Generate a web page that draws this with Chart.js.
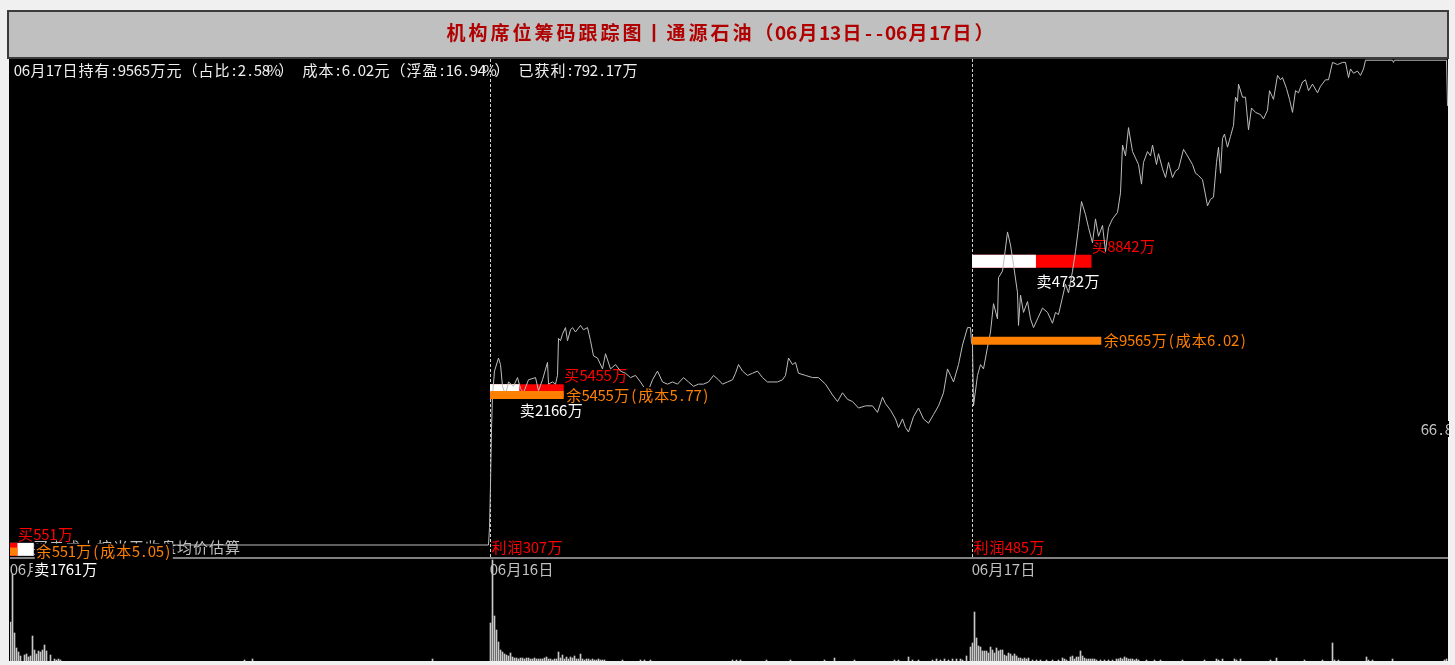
<!DOCTYPE html>
<html>
<head>
<meta charset="utf-8">
<script src="https://cdn.jsdelivr.net/npm/chart.js@4.4.1/dist/chart.umd.min.js"></script>
<style>
html, body { margin: 0; padding: 0; background: #f0f0f0; width: 1455px; height: 665px; overflow: hidden; }
#c { position: absolute; left: 7px; top: 10px; }
</style>
</head>
<body>
<canvas id="c" width="1442" height="651"></canvas>
<script>
// ---- data ----
const stockName = '通源石油';
const dates = ['06月13日', '06月16日', '06月17日'];
const dayStart = [0, 240, 481];          // minute index of each session open
const buyWan = [551, 5455, 8842];
const sellWan = [1761, 2166, 4732];
const remainWan = [551, 5455, 9565];
const costYuan = [5.05, 5.77, 6.02];
const tradeLevel = [5.06, 5.79, 6.385];  // price level of the buy/sell bar
const profitWan = [null, 307, 485];
const shareRatio = 2.58, floatPct = 16.94, gainedWan = 792.17;
const note = '买卖成本按当天收盘均价估算';
const sideValue = '66.8';

// [minute, price]
const day1 = [[12, 5.08], [239, 5.08]];
const day2 = [
  [239.5,5.16],[240,5.36],[240.5,5.61],[241,5.77],[242,5.88],[244,5.94],[245,5.91],[246,5.81],[247.5,5.77],
  [249,5.83],[251.5,5.81],[253.5,5.85],[255,5.80],[256.5,5.78],[259,5.84],[262.5,5.85],[264,5.79],[266,5.84],
  [268.5,5.92],[269,5.82],[271,5.83],[272.5,5.82],[273.5,5.86],[274,6.03],[275,6.02],[276,6.05],[277.5,6.08],
  [278.5,6.02],[280,6.07],[281,6.08],[282.5,6.06],[285,6.09],[286.5,6.07],[288.5,6.08],[290,6.02],[291.5,5.95],
  [293.5,5.94],[296,5.89],[297.5,5.96],[300,5.89],[302.5,5.91],[305,5.88],[307.5,5.87],[310,5.85],[312.5,5.86],
  [315,5.83],[318.5,5.78],[321,5.84],[323.5,5.88],[326,5.83],[328.5,5.82],[331,5.83],[333.5,5.82],[336.5,5.85],
  [339,5.83],[341.5,5.81],[344,5.82],[346.5,5.82],[349,5.83],[351.5,5.86],[354,5.84],[356,5.82],[358.5,5.83],
  [361,5.84],[362.5,5.87],[364,5.91],[366,5.88],[368.5,5.86],[371,5.87],[373.5,5.88],[376,5.85],[378.5,5.83],
  [381,5.83],[383.5,5.83],[386,5.84],[387.5,5.86],[389,5.94],[391,5.91],[392.5,5.92],[394,5.87],[397.5,5.86],
  [401,5.85],[404,5.85],[407.5,5.82],[411,5.77],[413.5,5.74],[416,5.78],[418.5,5.75],[421,5.74],[424,5.71],
  [427.5,5.72],[431,5.72],[433.5,5.69],[436,5.76],[437.5,5.73],[440,5.70],[442.5,5.66],[444,5.62],[446,5.66],
  [447.5,5.62],[449,5.60],[451.5,5.67],[454,5.71],[456.5,5.66],[459,5.64],[461.5,5.68],[464,5.72],[466.5,5.78],
  [468.5,5.89],[470,5.86],[471.5,5.83],[474,5.91],[476,6.00],[478.5,6.08],[480,6.08],[480.5,6.01]
];
const day3 = [
  [481,6.00],[481.5,5.72],[483.5,5.86],[485,5.91],[486.5,5.89],[488.5,5.99],[490,6.06],[491.5,6.19],[493.5,6.12],
  [494,6.31],[496,6.34],[497,6.41],[498.5,6.52],[500,6.46],[501.5,6.37],[503.5,6.24],[504,6.09],[505,6.23],
  [506.5,6.15],[508.5,6.20],[510,6.12],[511.5,6.08],[513.5,6.12],[516,6.17],[518.5,6.15],[521,6.10],[522.5,6.15],
  [524,6.14],[526,6.22],[527.5,6.28],[529,6.24],[531,6.34],[532.5,6.43],[534,6.54],[535.5,6.66],[537.5,6.60],
  [539,6.54],[541,6.47],[542.5,6.58],[544,6.50],[546,6.55],[547.5,6.43],[549,6.54],[551,6.58],[553.5,6.61],
  [555,6.70],[556,6.92],[557.5,6.87],[559,7.00],[561,6.89],[562.5,6.86],[564,6.83],[565.5,6.74],[566.5,6.84],
  [568.5,6.89],[570,6.87],[571,6.92],[573,6.83],[574,6.88],[576,6.81],[577.5,6.77],[579,6.84],[581,6.77],
  [582.5,6.80],[584,6.81],[586.5,6.90],[588.5,6.87],[591,6.83],[592.5,6.79],[594,6.78],[596,6.76],[597.5,6.69],
  [598.5,6.64],[600,6.67],[601.5,6.68],[603,6.84],[604,6.91],[605,6.79],[606,6.95],[607,6.97],[608.5,6.91],
  [610,6.96],[611.5,7.01],[612.5,7.14],[613.5,7.12],[614,7.20],[616,7.14],[617.5,7.14],[619,6.99],[620.5,7.09],
  [622.5,7.07],[625,7.06],[626.5,7.04],[628.5,7.08],[629.5,7.17],[631.5,7.13],[633.5,7.24],[635,7.22],[636,7.23],
  [638,7.18],[639.5,7.13],[641,7.07],[642.5,7.17],[644,7.16],[646,7.21],[647.5,7.22],[649,7.17],[651,7.20],
  [653.5,7.16],[655,7.19],[657.5,7.22],[659,7.22],[661,7.30],[663.5,7.29],[666,7.30],[667.5,7.30],[669,7.23],
  [670,7.27],[671.5,7.25],[673.5,7.26],[675,7.24],[676.5,7.27],[677.5,7.31],[691,7.31],[691.5,7.30],[692,7.31],
  [718,7.31],[718.5,7.10]
];

// [minute, volume in lots]
const vol1 = [[0,3900],[1,8700],[2,2800],[3,1300],[4,900],[5,500],[7,600],[8,700],[9,400],[10,500],[11,2500],
  [12,1100],[13,700],[14,1000],[15,900],[16,1100],[17,1600],[18,1000],[20,600],[22,200],[23,100],[24,200],
  [25,100],[117,100],[121,200],[211,200]];
const vol2 = [[240,3800],[241,10100],[242,4500],[243,3100],[244,1900],[245,1100],[246,900],[247,700],[248,600],
  [249,500],[250,800],[251,400],[252,300],[253,300],[254,200],[255,300],[256,300],[257,200],[258,300],[259,300],
  [260,200],[261,200],[262,300],[263,200],[264,200],[265,200],[266,200],[267,300],[268,400],[269,200],[270,200],
  [271,100],[272,200],[273,200],[274,900],[275,300],[276,600],[277,200],[278,400],[279,200],[280,400],[281,300],
  [282,500],[283,200],[284,200],[285,700],[286,200],[287,100],[288,200],[289,200],[290,100],[291,200],[292,100],
  [293,100],[294,200],[295,100],[296,100],[297,100],[306,100],[315,100],[317,100],[320,100],[361,100],[363,100],
  [365,100],[378,100],[390,100],[407,100],[412,300],[422,100],[442,100],[444,100],[449,400],[451,100],[454,100],
  [461,100],[463,200],[465,100],[467,200],[469,100],[471,200],[473,200],[475,200],[476,100],[478,500],[480,1400]];
const vol3 = [[481,1800],[482,4900],[483,2300],[484,1500],[485,1400],[486,1000],[487,1000],[488,1000],[489,800],
  [490,1400],[491,1100],[492,800],[493,1300],[494,1000],[495,1100],[496,1100],[497,600],[498,500],[499,800],
  [500,700],[501,500],[502,700],[503,500],[504,300],[505,300],[506,200],[507,300],[508,200],[509,300],[511,100],
  [513,100],[515,100],[518,100],[521,100],[524,100],[526,300],[527,200],[528,100],[530,400],[531,500],[532,200],
  [533,400],[534,400],[535,1000],[536,500],[537,300],[538,200],[539,200],[540,200],[541,200],[542,200],[543,100],
  [545,100],[547,100],[549,100],[551,100],[553,200],[554,200],[555,300],[556,200],[557,400],[558,300],[559,200],
  [560,200],[561,200],[562,100],[563,200],[564,100],[568,100],[572,100],[575,100],[586,100],[597,100],[603,200],
  [604,100],[606,200],[612,200],[613,100],[615,200],[630,100],[633,300],[647,100],[656,100],[661,1800],[662,100],
  [664,100],[678,400],[679,100],[681,100],[691,200],[717,100],[718,200]];

// ---- settings ----
const WAN_PER_MIN = 148;   // bar length scale
const VOL_PANE = 10300;    // volume at the pane divider
const CELL = 16;
const FONT = '15px "Noto Sans CJK SC", sans-serif';

function toPts(arr) { return arr.map(([m, v]) => ({ x: m, y: v })); }

function cellWidth(str, cell) {
  let w = 0;
  for (const ch of str) w += ch.charCodeAt(0) > 0x2000 ? cell : cell / 2;
  return w;
}

function put(ctx, str, x, y, color, bg, cell, font) {
  cell = cell || CELL;
  ctx.font = font || FONT;
  ctx.textAlign = 'center';
  ctx.textBaseline = 'middle';
  if (bg) {
    ctx.fillStyle = '#000';
    ctx.fillRect(x - 1, y - cell / 2, cellWidth(str, cell) + 2, cell);
  }
  ctx.fillStyle = color;
  let cx = x;
  for (const ch of str) {
    const adv = ch.charCodeAt(0) > 0x2000 ? cell : cell / 2;
    ctx.fillText(ch, cx + adv / 2, y);
    cx += adv;
  }
}

function seg(x0, x1, level, color, width, order) {
  return {
    type: 'line', data: [{ x: x0, y: level }, { x: x1, y: level }],
    borderColor: color, borderWidth: width, borderCapStyle: 'butt',
    pointRadius: 0, order: order
  };
}

// ---- datasets ----
const datasets = [];
datasets.push({
  label: 'price', type: 'line', data: toPts(day1.concat(day2, day3)),
  borderColor: '#bdbdbd', borderWidth: 1, pointRadius: 0, tension: 0, order: 20
});
datasets.push({
  label: 'vol', type: 'bar', data: toPts(vol1.concat(vol2, vol3)), yAxisID: 'yv',
  backgroundColor: '#c8c8c8', barThickness: 1, order: 50
});

const barEnds = [];
for (let i = 0; i < 3; i++) {
  const x0 = dayStart[i] - 0.25;
  const bEnd = x0 + buyWan[i] / WAN_PER_MIN;
  const sEnd = x0 + sellWan[i] / WAN_PER_MIN;
  const rEnd = x0 + remainWan[i] / WAN_PER_MIN;
  barEnds.push({ bEnd, sEnd, rEnd });
  const buyLonger = buyWan[i] >= sellWan[i];
  datasets.push(seg(x0, bEnd, tradeLevel[i], '#ff0000', 13, buyLonger ? 40 : 30));
  datasets.push(seg(x0, sEnd, tradeLevel[i], '#ffffff', 13, buyLonger ? 30 : 40));
  datasets.push(seg(x0, rEnd, costYuan[i], '#ff8000', 8, 10));
}

// ---- drawing extras ----
const extras = {
  id: 'extras',
  beforeDraw(chart) {
    const { ctx, chartArea: a } = chart;
    const xs = chart.scales.x, yv = chart.scales.yv;
    ctx.save();
    ctx.fillStyle = '#000';
    ctx.fillRect(a.left - 1, a.top, a.right - a.left + 1, a.bottom - a.top);
    ctx.fillStyle = '#3c3c3c';
    ctx.fillRect(0, 0, chart.width, a.top);
    ctx.fillStyle = '#c0c0c0';
    ctx.fillRect(2, 2, chart.width - 4, a.top - 4);

    const title = '机构席位筹码跟踪图丨' + stockName + '（' + dates[0] + '--' + dates[2] + '）';
    const tw = cellWidth(title, 22);
    put(ctx, title, (chart.width - tw) / 2 - 8, 23, '#b00000', false, 22, 'bold 19px "Noto Sans CJK SC", sans-serif');

    const info = dates[2] + '持有:' + remainWan[2] + '万元（占比:' + shareRatio.toFixed(2) + '%） 成本:' +
      costYuan[2].toFixed(2) + '元（浮盈:' + floatPct.toFixed(2) + '%） 已获利:' + gainedWan.toFixed(2) + '万';
    put(ctx, info, a.left + 4, a.top + 11, '#f0f0f0', false);

    const sepY = yv.getPixelForValue(VOL_PANE);
    ctx.strokeStyle = '#d0d0d0';
    ctx.lineWidth = 1;
    ctx.setLineDash([3, 2]);
    for (let i = 1; i < 3; i++) {
      const x = Math.floor(xs.getPixelForValue(dayStart[i])) + 0.5;
      ctx.beginPath();
      ctx.moveTo(x, a.top);
      ctx.lineTo(x, sepY);
      ctx.stroke();
    }
    ctx.setLineDash([]);
    ctx.strokeStyle = '#808080';
    ctx.lineWidth = 2;
    ctx.beginPath();
    ctx.moveTo(a.left, sepY);
    ctx.lineTo(a.right, sepY);
    ctx.stroke();
    ctx.restore();
  },
  beforeDatasetDraw(chart, args) {
    if (chart.data.datasets[args.index].label !== 'price') return;
    const { ctx } = chart;
    const xs = chart.scales.x, ys = chart.scales.y, yv = chart.scales.yv;
    const sepY = yv.getPixelForValue(VOL_PANE);
    ctx.save();
    for (let i = 0; i < 3; i++) {
      const dx = xs.getPixelForValue(dayStart[i]) - 0.5;
      put(ctx, dates[i], dx, sepY + 11, '#c0c0c0', false);
      if (profitWan[i] !== null) put(ctx, '利润' + profitWan[i] + '万', dx + 1, sepY - 11, '#ff0000', false);
    }
    put(ctx, note, xs.getPixelForValue(dayStart[0]) + 22, sepY - 11, '#c0c0c0', false);
    for (let i = 0; i < 3; i++) {
      const lv = ys.getPixelForValue(tradeLevel[i]);
      put(ctx, '买' + buyWan[i] + '万', xs.getPixelForValue(barEnds[i].bEnd), lv - 15.5, '#ff0000', false);
      put(ctx, '卖' + sellWan[i] + '万', xs.getPixelForValue(barEnds[i].sEnd), lv + 19.5, '#ffffff', true);
    }
    ctx.restore();
  },
  afterDatasetsDraw(chart) {
    const { ctx, chartArea: a } = chart;
    const xs = chart.scales.x, ys = chart.scales.y;
    ctx.save();
    for (let i = 0; i < 3; i++) {
      const e = barEnds[i];
      const lx = xs.getPixelForValue(Math.max(e.bEnd, e.sEnd, e.rEnd)) + 2;
      put(ctx, '余' + remainWan[i] + '万(成本' + costYuan[i].toFixed(2) + ')', lx,
        ys.getPixelForValue(costYuan[i]), '#ff8000', true);
    }
    put(ctx, sideValue, a.right - 27, a.top + 370, '#c0c0c0', true);
    ctx.restore();
  }
};

new Chart(document.getElementById('c'), {
  type: 'line',
  data: { datasets },
  options: {
    responsive: false,
    animation: false,
    devicePixelRatio: 1,
    events: [],
    layout: { padding: { left: 3, right: 1, top: 49, bottom: 0 } },
    plugins: { legend: { display: false }, tooltip: { enabled: false } },
    scales: {
      x: { type: 'linear', display: false, offset: false, grid: { offset: false }, min: -0.25, max: 718.75 },
      y: { type: 'linear', display: false, min: 4.5464, max: 7.3156 },
      yv: { type: 'linear', display: false, min: 0, max: 60200 }
    }
  },
  plugins: [extras]
});
</script>
</body>
</html>
